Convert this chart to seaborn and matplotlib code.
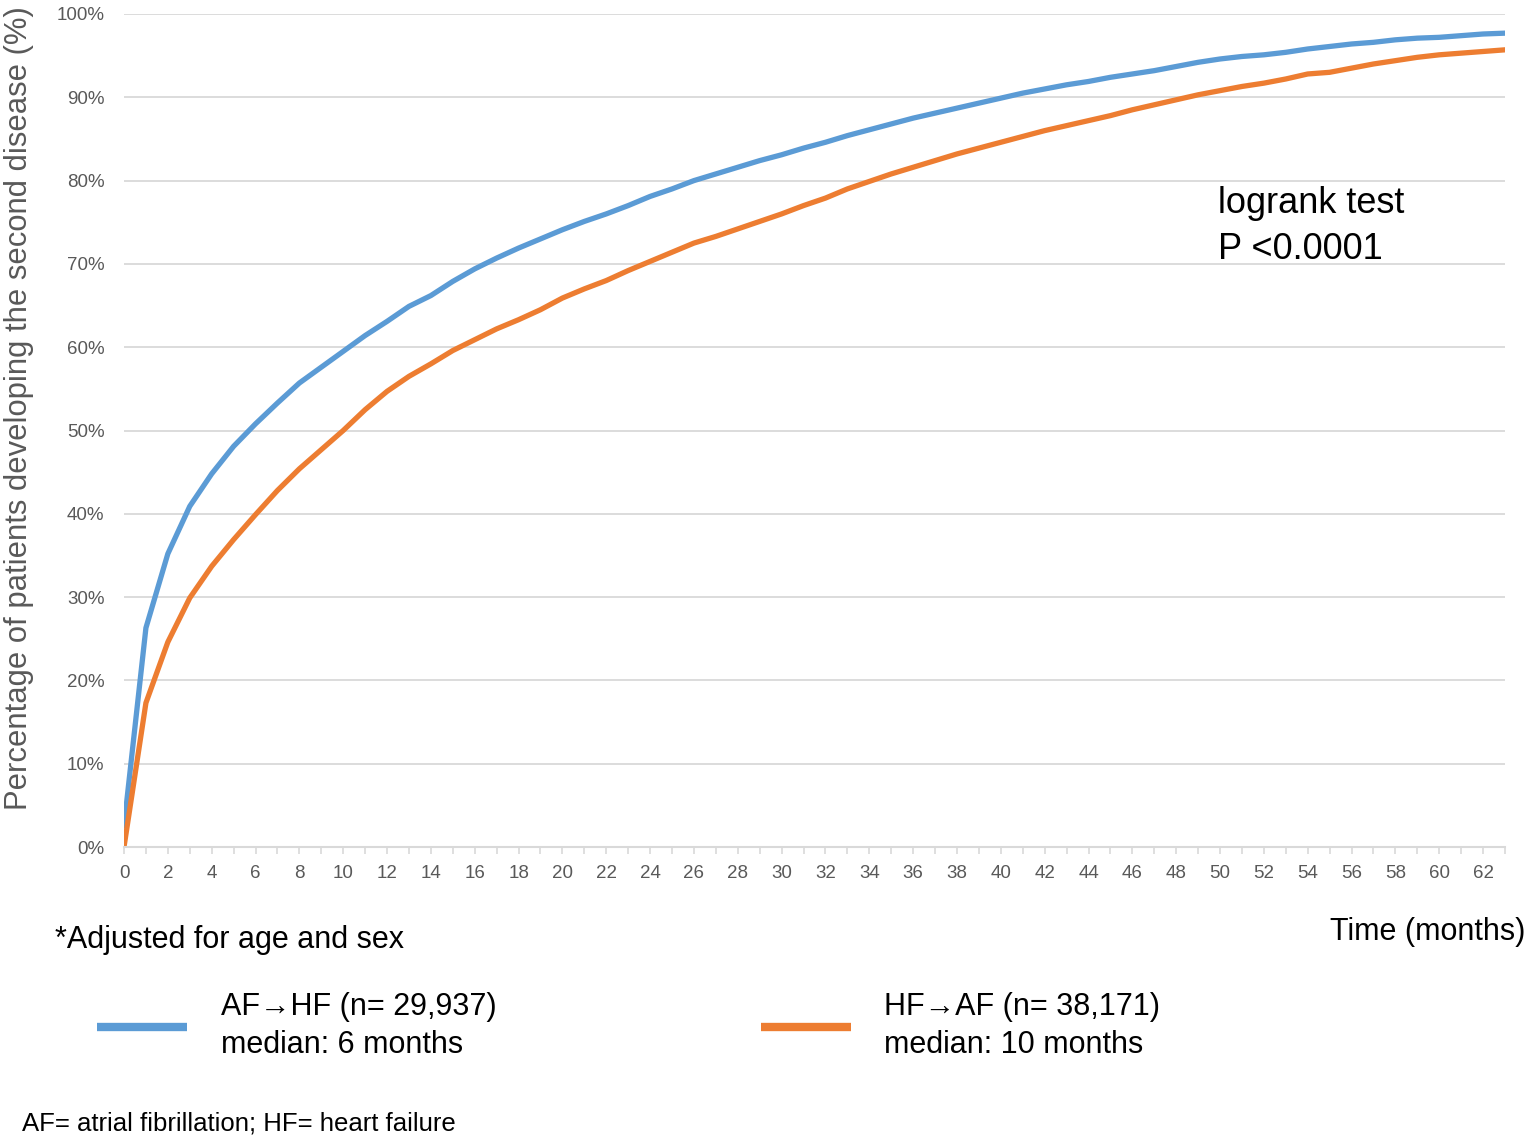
import numpy as np
import pandas as pd
import matplotlib
matplotlib.use("Agg")
import matplotlib.pyplot as plt
from matplotlib.lines import Line2D
from matplotlib.ticker import MultipleLocator, FuncFormatter
import seaborn as sns

# ---- data ----
months = list(range(0, 64))
af_to_hf = [2.5, 26.3, 35.2, 40.9, 44.8, 48.1, 50.8, 53.3, 55.7, 57.6,
            59.5, 61.4, 63.1, 64.9, 66.2, 67.9, 69.4, 70.7, 71.9, 73.0,
            74.1, 75.1, 76.0, 77.0, 78.1, 79.0, 80.0, 80.8, 81.6, 82.4,
            83.1, 83.9, 84.6, 85.4, 86.1, 86.8, 87.5, 88.1, 88.7, 89.3,
            89.9, 90.5, 91.0, 91.5, 91.9, 92.4, 92.8, 93.2, 93.7, 94.2,
            94.6, 94.9, 95.1, 95.4, 95.8, 96.1, 96.4, 96.6, 96.9, 97.1,
            97.2, 97.4, 97.6, 97.7]
hf_to_af = [0.0, 17.3, 24.6, 29.9, 33.7, 36.9, 39.9, 42.8, 45.4, 47.7,
            50.0, 52.5, 54.7, 56.5, 58.0, 59.6, 60.9, 62.2, 63.3, 64.5,
            65.9, 67.0, 68.0, 69.2, 70.3, 71.4, 72.5, 73.3, 74.2, 75.1,
            76.0, 77.0, 77.9, 79.0, 79.9, 80.8, 81.6, 82.4, 83.2, 83.9,
            84.6, 85.3, 86.0, 86.6, 87.2, 87.8, 88.5, 89.1, 89.7, 90.3,
            90.8, 91.3, 91.7, 92.2, 92.8, 93.0, 93.5, 94.0, 94.4, 94.8,
            95.1, 95.3, 95.5, 95.7]
group_labels = ["AF\u2192HF (n= 29,937)\nmedian: 6 months",
                "HF\u2192AF (n= 38,171)\nmedian: 10 months"]
colors = ["#5B9BD5", "#ED7D31"]
y_ticks = list(range(0, 101, 10))
x_ticks = list(range(0, 63, 2))

df = pd.DataFrame({
    "month": months * 2,
    "pct": af_to_hf + hf_to_af,
    "group": [group_labels[0]] * len(months) + [group_labels[1]] * len(months),
})

sns.set_style("white")
plt.rcParams["font.family"] = ["Liberation Sans", "DejaVu Sans"]

fig = plt.figure(figsize=(15.34, 11.43), dpi=100)
ax = fig.add_axes([124 / 1534, 1 - 847 / 1143, (1505 - 124) / 1534, (847 - 14) / 1143])

sns.lineplot(data=df, x="month", y="pct", hue="group", palette=colors,
             linewidth=3.8, legend=False, ax=ax, hue_order=group_labels)

ax.set_xlim(0, 63)
ax.set_ylim(0, 100)
ax.set_yticks(y_ticks)
ax.yaxis.set_major_formatter(FuncFormatter(lambda v, p: f"{int(v)}%"))
ax.set_xticks(x_ticks)
ax.xaxis.set_minor_locator(MultipleLocator(1))
ax.grid(axis="y", color="#d9d9d9", linewidth=1.3)
ax.grid(axis="x", visible=False)
for s in ["left", "right", "top"]:
    ax.spines[s].set_visible(False)
ax.spines["bottom"].set_color("#d9d9d9")
ax.spines["bottom"].set_linewidth(1.5)
ax.set_axisbelow(True)

ax.tick_params(axis="y", length=0, pad=14, labelsize=13.5, labelcolor="#595959")
ax.tick_params(axis="x", which="both", direction="out", length=5, width=1.2,
               color="#d9d9d9", bottom=True)
ax.tick_params(axis="x", which="major", pad=8, labelsize=13.5, labelcolor="#595959")

ax.set_xlabel("")
ax.set_ylabel("Percentage of patients developing the second disease (%)",
              fontsize=22.3, color="#595959")
ax.yaxis.set_label_coords(-0.0655, 0.527)

# annotations
fig.text(1218 / 1534, 1 - 213 / 1143, "logrank test", fontsize=26,
         color="black", va="baseline", ha="left")
fig.text(1218 / 1534, 1 - 259 / 1143, "P <0.0001", fontsize=26,
         color="black", va="baseline", ha="left")
fig.text(55 / 1534, 1 - 948 / 1143, "*Adjusted for age and sex", fontsize=22,
         color="black", va="baseline", ha="left")
fig.text(1525 / 1534, 1 - 940 / 1143, "Time (months)", fontsize=22,
         color="black", va="baseline", ha="right")
fig.text(22 / 1534, 1 - 1130 / 1143, "AF= atrial fibrillation; HF= heart failure",
         fontsize=18.5, color="black", va="baseline", ha="left")

handles = [Line2D([0], [0], color=c, linewidth=6, solid_capstyle="butt") for c in colors]
leg = fig.legend(handles, group_labels, loc="center left",
                 bbox_to_anchor=(97 / 1534, 1 - 1026 / 1143), ncol=2,
                 frameon=False, fontsize=22, handlelength=2.95,
                 handletextpad=1.1, columnspacing=8.65, borderpad=0,
                 borderaxespad=0, labelcolor="black")
for t in leg.get_texts():
    t.set_linespacing(1.35)

fig.savefig("out.png", dpi=100)
